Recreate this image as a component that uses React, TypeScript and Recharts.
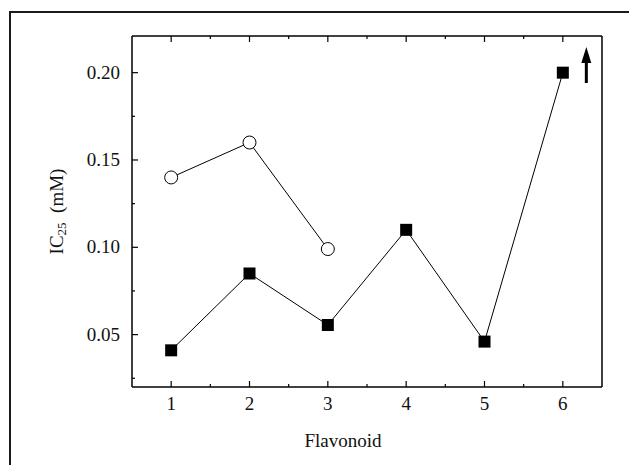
import { LineChart, Line, XAxis, YAxis, ReferenceLine } from "recharts";

const flavonoid = [1, 2, 3, 4, 5, 6];
const filledSeries = [0.041, 0.085, 0.0555, 0.11, 0.046, 0.2];
const openSeries = [0.14, 0.16, 0.099];

const xTicks = [1, 1.5, 2, 2.5, 3, 3.5, 4, 4.5, 5, 5.5, 6];
const yTicks = [0.025, 0.05, 0.075, 0.1, 0.125, 0.15, 0.175, 0.2];
const yLabels = [0.05, 0.1, 0.15, 0.2];

const arrowX = 6.3;
const arrowFrom = 0.1941;
const arrowTo = 0.2147;

const data = flavonoid.map((f, i) => ({
  x: f,
  filled: filledSeries[i],
  open: i < openSeries.length ? openSeries[i] : null,
}));

const FONT = "Liberation Serif";
const isMajorX = (v: number) => Number.isInteger(v);
const isMajorY = (v: number) => yLabels.some((l) => Math.abs(l - v) < 1e-9);

function BottomTick(props: any) {
  const { x, y, payload } = props;
  const axisY = y - 8 - 6;
  const major = isMajorX(payload.value);
  return (
    <g>
      <line x1={x} x2={x} y1={axisY} y2={axisY - (major ? 6 : 3)} stroke="#000" strokeWidth={1.2} />
      {major && (
        <text x={x} y={axisY + 23} textAnchor="middle" fontFamily={FONT} fontSize={19} fill="#111">
          {payload.value}
        </text>
      )}
    </g>
  );
}

function TopTick(props: any) {
  const { x, y, payload } = props;
  const axisY = y + 8 + 6;
  const major = isMajorX(payload.value);
  return <line x1={x} x2={x} y1={axisY} y2={axisY + (major ? 6 : 3)} stroke="#000" strokeWidth={1.2} />;
}

function LeftTick(props: any) {
  const { x, y, payload } = props;
  const axisX = x + 8 + 6;
  const major = isMajorY(payload.value);
  return (
    <g>
      <line x1={axisX} x2={axisX + (major ? 6 : 3)} y1={y} y2={y} stroke="#000" strokeWidth={1.2} />
      {major && (
        <text x={axisX - 12} y={y + 6} textAnchor="end" fontFamily={FONT} fontSize={19} fill="#111">
          {payload.value.toFixed(2)}
        </text>
      )}
    </g>
  );
}

function RightTick(props: any) {
  const { x, y, payload } = props;
  const axisX = x - 8 - 6;
  const major = isMajorY(payload.value);
  return <line x1={axisX} x2={axisX - (major ? 6 : 3)} y1={y} y2={y} stroke="#000" strokeWidth={1.2} />;
}

function SquareDot(props: any) {
  const { cx, cy, index } = props;
  if (cx == null || cy == null) return <g key={`s${index}`} />;
  return <rect key={`s${index}`} x={cx - 6} y={cy - 6} width={12} height={12} fill="#000" />;
}

function CircleDot(props: any) {
  const { cx, cy, index, value } = props;
  if (cx == null || cy == null || value == null) return <g key={`c${index}`} />;
  return <circle key={`c${index}`} cx={cx} cy={cy} r={6.5} fill="#fff" stroke="#000" strokeWidth={1} />;
}

function Arrow(props: any) {
  const { x1, y1, y2 } = props;
  const bottom = Math.max(y1, y2);
  const tip = Math.min(y1, y2);
  const x = x1;
  return (
    <g>
      <line x1={x} x2={x} y1={bottom} y2={tip + 12} stroke="#000" strokeWidth={3} />
      <polygon points={`${x},${tip} ${x - 5},${tip + 16} ${x + 5},${tip + 16}`} fill="#000" />
    </g>
  );
}

function YTitle(props: any) {
  const cy = props.viewBox.y + props.viewBox.height / 2;
  const cx = 56;
  return (
    <text
      x={cx}
      y={cy}
      transform={`rotate(-90, ${cx}, ${cy})`}
      textAnchor="middle"
      dominantBaseline="central"
      fontFamily={FONT}
      fontSize={19}
      fill="#111"
    >
      IC<tspan fontSize={13} dy={5}>25</tspan>
      <tspan dy={-5}>{"\u00a0 (mM)"}</tspan>
    </text>
  );
}

function XTitle() {
  return (
    <text x={343} y={447} textAnchor="middle" fontFamily={FONT} fontSize={19} fill="#111">
      Flavonoid
    </text>
  );
}

export default function App() {
  return (
    <div style={{ position: "absolute", left: 0, top: 0, width: 629, height: 465, background: "#fff", overflow: "hidden", fontFamily: FONT }}>
      <div
        style={{
          position: "absolute",
          left: 9,
          top: 11,
          width: 640,
          height: 480,
          borderTop: "2px solid #1a1a1a",
          borderLeft: "2px solid #1a1a1a",
        }}
      />
      <LineChart
        width={629}
        height={465}
        data={data}
        margin={{ top: 35, right: 26, bottom: 0, left: 0 }}
        style={{ position: "absolute", left: 0, top: 0 }}
      >
        <XAxis
          xAxisId="b"
          dataKey="x"
          type="number"
          domain={[0.5, 6.5]}
          ticks={xTicks}
          interval={0}
          height={78}
          tickLine={false}
          tickSize={6}
          tickMargin={8}
          tick={<BottomTick />}
          axisLine={{ stroke: "#000", strokeWidth: 1.5 }}
          label={<XTitle />}
        />
        <XAxis
          xAxisId="t"
          orientation="top"
          dataKey="x"
          type="number"
          domain={[0.5, 6.5]}
          ticks={xTicks}
          interval={0}
          height={1}
          tickLine={false}
          tickSize={6}
          tickMargin={8}
          tick={<TopTick />}
          axisLine={{ stroke: "#000", strokeWidth: 1.5 }}
        />
        <YAxis
          yAxisId="l"
          type="number"
          domain={[0.02, 0.221]}
          ticks={yTicks}
          interval={0}
          width={132}
          tickLine={false}
          tickSize={6}
          tickMargin={8}
          tick={<LeftTick />}
          axisLine={{ stroke: "#000", strokeWidth: 1.5 }}
          label={<YTitle />}
        />
        <YAxis
          yAxisId="r"
          orientation="right"
          type="number"
          domain={[0.02, 0.221]}
          ticks={yTicks}
          interval={0}
          width={1}
          tickLine={false}
          tickSize={6}
          tickMargin={8}
          tick={<RightTick />}
          axisLine={{ stroke: "#000", strokeWidth: 1.5 }}
        />
        <Line
          xAxisId="b"
          yAxisId="l"
          type="linear"
          dataKey="filled"
          stroke="#000"
          strokeWidth={1}
          dot={<SquareDot />}
          activeDot={false}
          isAnimationActive={false}
        />
        <Line
          xAxisId="b"
          yAxisId="l"
          type="linear"
          dataKey="open"
          stroke="#000"
          strokeWidth={1}
          dot={<CircleDot />}
          activeDot={false}
          connectNulls={false}
          isAnimationActive={false}
        />
        <ReferenceLine
          xAxisId="b"
          yAxisId="l"
          segment={[
            { x: arrowX, y: arrowFrom },
            { x: arrowX, y: arrowTo },
          ]}
          shape={<Arrow />}
          ifOverflow="visible"
        />
      </LineChart>
    </div>
  );
}
